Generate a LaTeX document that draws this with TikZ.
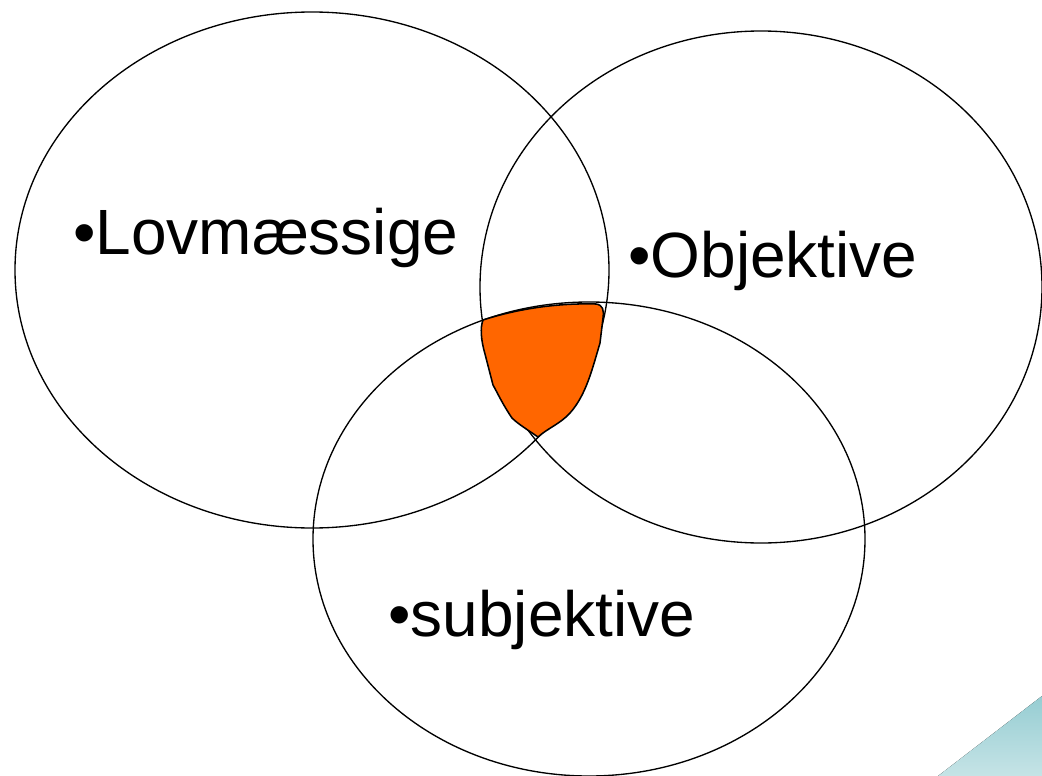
\documentclass[tikz,border=0pt]{standalone}
\usepackage{fontspec}
\setmainfont{Liberation Sans}
\usepackage{xcolor}
\usetikzlibrary{calc}
\definecolor{blobOrange}{RGB}{255,102,0}
\definecolor{cornerTeal}{RGB}{150,205,210}

\begin{document}
\begin{tikzpicture}[x=0.025cm,y=-0.025cm,
        ring/.style={draw=black,line width=0.95pt},
        blob/.style={draw=black,fill=blobOrange,line width=1.1pt,line join=round},
        lbl/.style={anchor=base west,inner sep=0pt,
                    font=\fontsize{45.5}{50}\selectfont}]

        \useasboundingbox (0,0) rectangle (1042,776);

        % hjoerne
        \fill[top color=cornerTeal,bottom color=cornerTeal!55] (938,776) -- (1042,696) -- (1042,776) -- cycle;

        % cirkler
        \coordinate (cLov) at (312,270);
        \coordinate (cObj) at (761,287);
        \coordinate (cSub) at (589,539);
        \draw[ring] (cLov) ellipse [x radius=297, y radius=258];
        \draw[ring] (cObj) ellipse [x radius=281, y radius=256];
        \draw[ring] (cSub) ellipse [x radius=276, y radius=237];

        % faelles omraade
        \draw[blob] (483,320) .. controls (520,308) and (560,303) .. (596,304)
              .. controls (603,305) and (604,310) .. (603,318)
              -- (600,343) .. controls (592,370) and (586,395) .. (570,413)
              .. controls (560,424) and (548,428) .. (538,437)
              .. controls (528,430) and (518,424) .. (512,418)
              .. controls (503,405) and (497,392) .. (493,385)
              -- (485,354) .. controls (481,340) and (480,328) .. (483,320) -- cycle;

        % tekster
        \node[lbl] (lov) at (73,254) {•Lovmæssige};
        \node[lbl] (obj) at (628,277) {•Objektive};
        \node[lbl] (sub) at (388,636) {•subjektive};
      \end{tikzpicture}
\end{document}
